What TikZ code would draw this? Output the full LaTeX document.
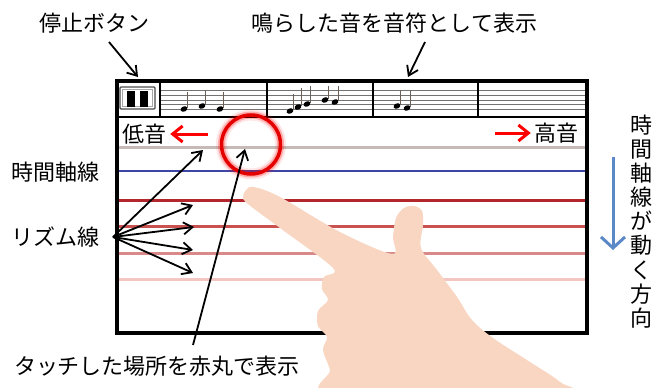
\documentclass[tikz,border=0pt]{standalone}
\usepackage{fontspec}
\setmainfont{Noto Sans CJK JP}
\usetikzlibrary{arrows.meta,positioning}

\definecolor{skin}{HTML}{F8D6C2}
\definecolor{lowgray}{HTML}{C6BAB6}
\definecolor{timeblue}{HTML}{3E45A8}
\definecolor{rhythmA}{HTML}{B3262B}
\definecolor{rhythmB}{HTML}{C9514F}
\definecolor{rhythmC}{HTML}{D98A88}
\definecolor{rhythmD}{HTML}{F3C6C2}
\definecolor{flowblue}{HTML}{5B88C6}
\definecolor{stemgray}{HTML}{6B6058}

\tikzstyle{jtext} = [font=\fontsize{22}{24}\selectfont, inner sep=0pt]
\tikzstyle{pointer} = [->, line width=1.8pt]
\tikzstyle{redpointer} = [-{Straight Barb[length=10pt,width=16pt]}, red, line width=3pt]
\tikzstyle{rline} = [line width=3pt]

% quarter note: head x, head y, top of stem
\newcommand{\qnote}[3]{%
  \fill[rotate around={25:(#1,#2)}] (#1,#2) ellipse (3.6 and 2.6);
  \draw[stemgray, line width=0.9pt] (#1+3.2,#2-0.8) -- (#1+3.2,#3);
}

\begin{document}
\begin{tikzpicture}[x=1pt, y=-1pt, >={Straight Barb[length=9pt,width=12pt]}]
	\useasboundingbox (0,0) rectangle (654,388);

	% screen
	\fill[white] (117,81) rectangle (587,333);
	\draw[lowgray, rline] (117,147) -- (587,147);
	\draw[timeblue, line width=1.5pt] (117,171) -- (587,171);
	\foreach \y/\c in {200/rhythmA, 226/rhythmB, 253/rhythmC, 279/rhythmD}{
		\draw[\c, rline] (117,\y) -- (587,\y);
	}

	% staff with notes
	\foreach \y in {90.5, 95.2, 99.9, 104.6, 109.3}{
		\draw[black!55, line width=0.7pt] (160,\y) -- (587,\y);
	}
	\foreach \x in {267, 373, 478}{
		\draw[line width=1.5pt] (\x,81) -- (\x,117);
	}
	\draw[line width=1.5pt] (160,81) -- (160,117);
	\draw[line width=2pt] (117,117) -- (587,117);
	\qnote{184}{109}{92} \qnote{202}{106}{90} \qnote{220}{109}{92}
	\qnote{290}{111}{94} \qnote{298}{107}{88} \qnote{307}{104}{86}
	\qnote{325}{100}{86} \qnote{335}{102}{86}
	\qnote{397}{106}{90} \qnote{407}{108}{90}

	% stop button
	\draw[black!70, line width=1.3pt, rounded corners=1pt] (120,87) rectangle (155,109);
	\draw[black!35, line width=0.8pt] (122.5,89.5) rectangle (152.5,106.5);
	\fill (127,91) rectangle (135,107);
	\fill (140,91) rectangle (148,107);

	\draw[line width=4pt] (117,81) rectangle (587,333);

	% touched spot
	\coordinate (touch) at (251,144.5);
	\foreach \w/\o in {11/0.10, 7/0.25}{
		\draw[red, line width=\w pt, opacity=\o] (touch) circle[radius=29.5];
	}
	\draw[red!90!black, line width=3.5pt] (touch) circle[radius=29.5];

	% hand
	\fill[skin] plot[smooth cycle, tension=0.55] coordinates {
		(243,197) (246,190) (254,187) (280,197) (340,232) (392,254)
		(393,237) (396,218) (404,208) (414,206) (422,211) (423,225) (421,248)
		(437,270) (457,297) (472,320) (493,338) (530,362) (560,382)
		(565,395) (335,395) (330,370) (323,350) (327,337) (318,326)
		(318,311) (328,300) (322,289) (324,277) (333,268) (280,228) (248,204)};

	% labels
	\node[jtext] (stop_lbl) at (94,23) {停止ボタン};
	\node[jtext] (notes_lbl) at (394.5,23) {鳴らした音を音符として表示};
	\node[jtext] (low_lbl) at (144,134) {低音};
	\node[jtext] (high_lbl) at (556,133) {高音};
	\node[jtext] (time_lbl) at (56,172) {時間軸線};
	\node[jtext] at ([yshift=-65pt]time_lbl) (rhythm_lbl) {リズム線};
	\node[jtext] (touch_lbl) at (157,366) {タッチした場所を赤丸で表示};
	\node[jtext, align=center, font=\fontsize{22}{24.1}\selectfont] (dir_lbl) at (641,221.5)
		{時\\間\\軸\\線\\が\\動\\く\\方\\向};

	% arrow ends
	\coordinate (stop_from) at (109,42);
	\coordinate (stop_to) at (138,77);
	\coordinate (notes_from) at (425,42);
	\coordinate (notes_to) at (408,77);
	\coordinate (low_from) at (208,134);
	\coordinate (high_from) at (495,133);
	\coordinate (rhythm_src) at (113,237);
	\coordinate (touch_from) at (193,345);
	\coordinate (touch_to) at (245,149);
	\coordinate (dir_from) at (613,157);
	\coordinate (dir_to) at (613,250);
	\foreach \n/\x/\y in {1/203/150, 2/193/205, 3/194/227, 4/193/250, 5/193/273}{
		\coordinate (rt\n) at (\x,\y);
	}

	\draw[pointer] (stop_from) -- (stop_to);
	\draw[pointer] (notes_from) -- (notes_to);
	\draw[redpointer] (low_from) -- ([xshift=4pt]low_lbl.east);
	\draw[redpointer] (high_from) -- ([xshift=-3pt]high_lbl.west);
	\foreach \n in {1,...,5}{
		\draw[pointer] (rhythm_src) -- (rt\n);
	}
	\draw[pointer] (touch_from) -- (touch_to);
	\draw[flowblue, line width=3pt, -{Straight Barb[length=11pt,width=24pt]}] (dir_from) -- (dir_to);
\end{tikzpicture}
\end{document}
